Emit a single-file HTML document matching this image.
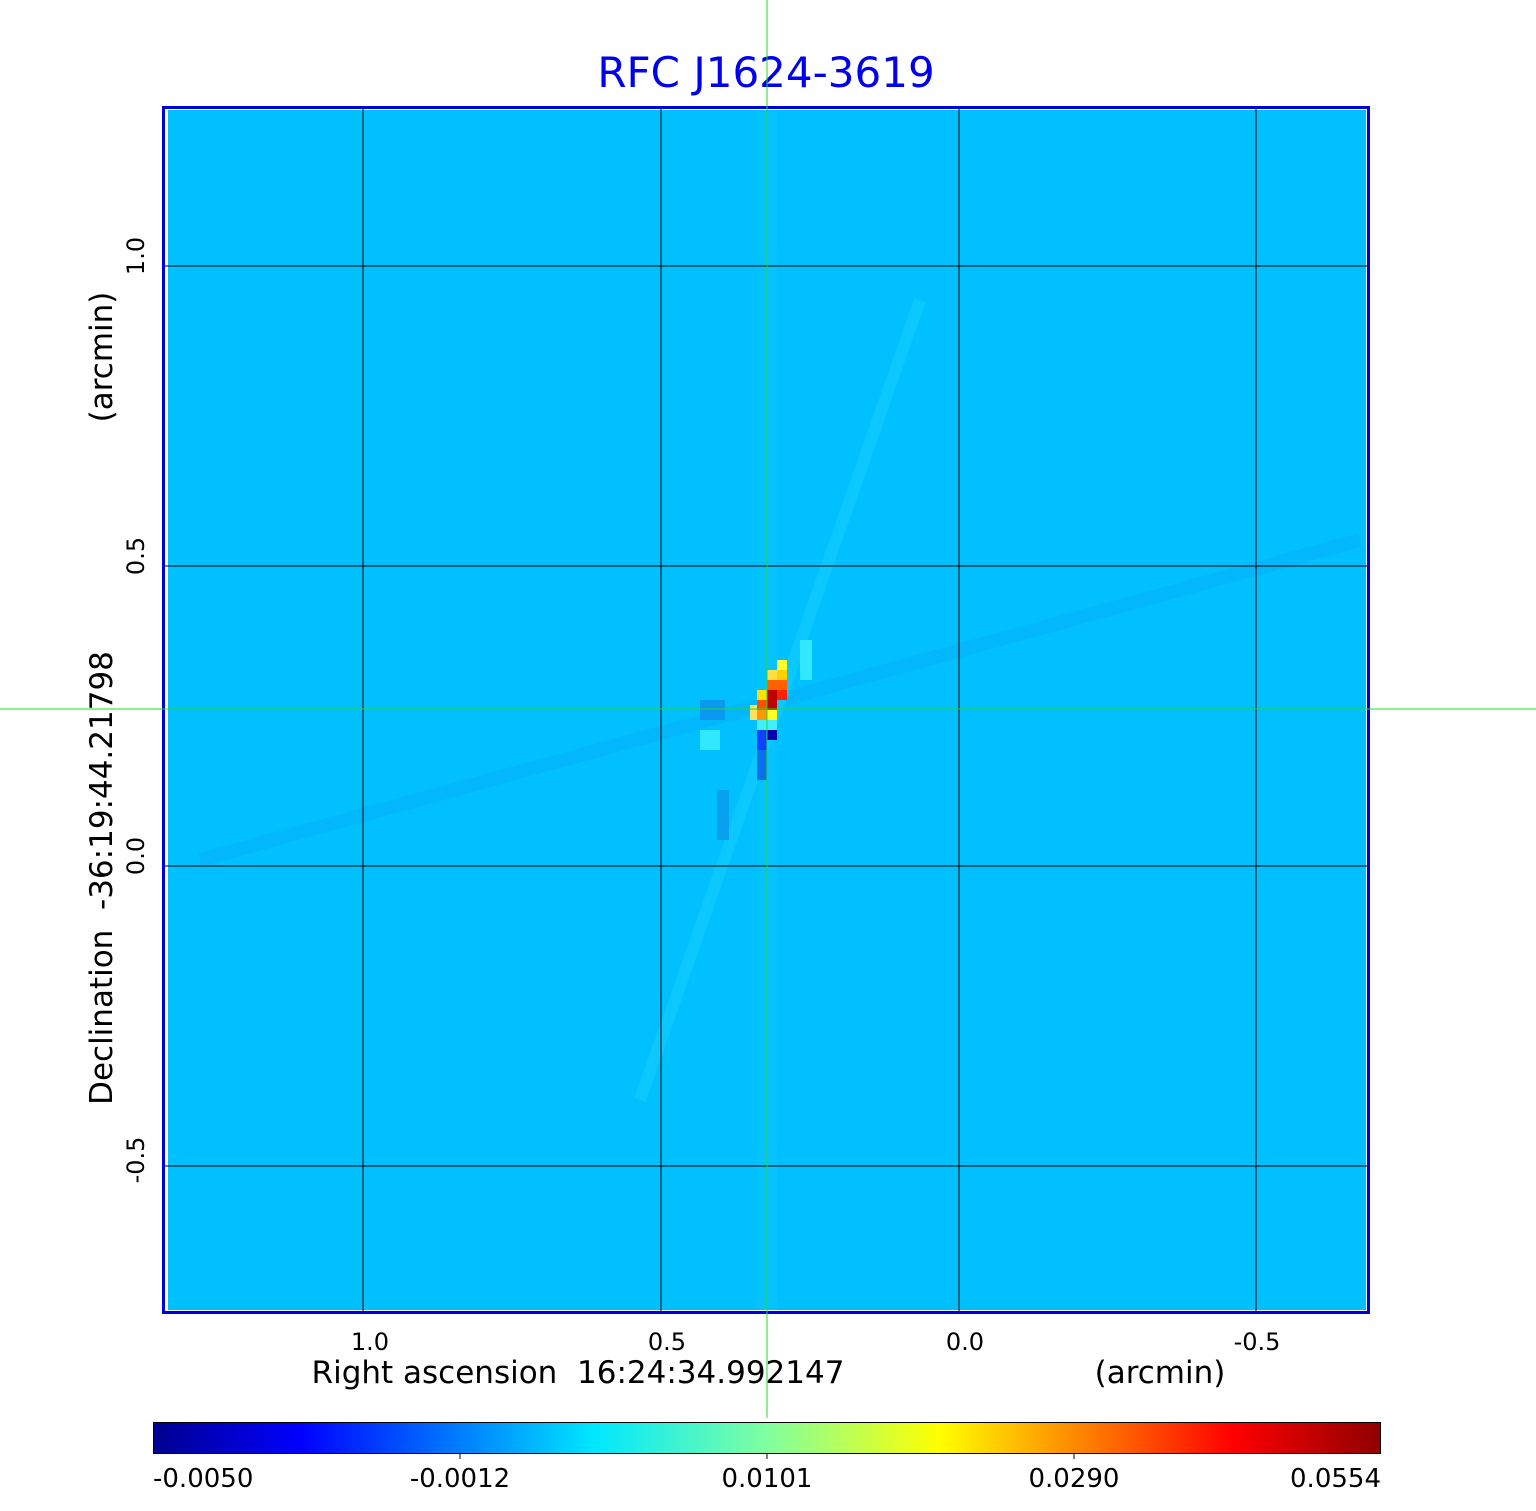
<!DOCTYPE html>
<html><head><meta charset="utf-8"><style>
body{margin:0;background:#fff;}
svg{display:block;font-family:"DejaVu Sans","Liberation Sans",sans-serif;}
</style></head><body>
<svg width="1536" height="1511" viewBox="0 0 1536 1511" xmlns="http://www.w3.org/2000/svg">
<defs>
<linearGradient id="jet" x1="0" x2="1" y1="0" y2="0">
<stop offset="0" stop-color="#000090"/>
<stop offset="0.12" stop-color="#0000ff"/>
<stop offset="0.36" stop-color="#00e8ff"/>
<stop offset="0.5" stop-color="#80ffa0"/>
<stop offset="0.64" stop-color="#ffff00"/>
<stop offset="0.88" stop-color="#ff0000"/>
<stop offset="1" stop-color="#900000"/>
</linearGradient>
</defs>
<text x="766" y="87" font-size="42" fill="#0000ee" text-anchor="middle">RFC J1624-3619</text>
<rect x="168" y="110" width="1198" height="1200" fill="#00c0ff"/>
<g opacity="0.35">
<rect x="757" y="110" width="20" height="1200" fill="#10c8ff"/>
<line x1="200" y1="860" x2="1360" y2="540" stroke="#0aa8f8" stroke-width="14"/>
<line x1="640" y1="1100" x2="920" y2="300" stroke="#20d8ff" stroke-width="12"/>
</g>
<rect x="700" y="700" width="25" height="20" fill="#0a98f0"/>
<rect x="700" y="730" width="20" height="20" fill="#30e8ff"/>
<rect x="717" y="790" width="12" height="50" fill="#0aa0f0"/>
<rect x="800" y="640" width="12" height="40" fill="#30e8ff"/>
<rect x="777" y="660" width="10" height="10" fill="#ffff30"/>
<rect x="777" y="670" width="10" height="10" fill="#ffd000"/>
<rect x="767" y="670" width="10" height="10" fill="#ffe040"/>
<rect x="767" y="680" width="20" height="10" fill="#ff6000"/>
<rect x="767" y="690" width="10" height="20" fill="#c00000"/>
<rect x="777" y="690" width="10" height="10" fill="#ff2000"/>
<rect x="757" y="690" width="10" height="10" fill="#ffe000"/>
<rect x="757" y="700" width="10" height="10" fill="#ff5000"/>
<rect x="767" y="710" width="10" height="10" fill="#ffff20"/>
<rect x="757" y="710" width="10" height="10" fill="#ff9800"/>
<rect x="750" y="705" width="7" height="15" fill="#ffe060"/>
<rect x="757" y="720" width="20" height="10" fill="#40f0ff"/>
<rect x="767" y="730" width="10" height="10" fill="#0000b0"/>
<rect x="757" y="730" width="10" height="20" fill="#1040ff"/>
<rect x="757" y="750" width="10" height="30" fill="#0870f0"/>
<g stroke="#000" stroke-width="1">
<line x1="363" y1="107" x2="363" y2="1313"/>
<line x1="661" y1="107" x2="661" y2="1313"/>
<line x1="959" y1="107" x2="959" y2="1313"/>
<line x1="1256" y1="107" x2="1256" y2="1313"/>
<line x1="163" y1="266" x2="1369" y2="266"/>
<line x1="163" y1="566" x2="1369" y2="566"/>
<line x1="163" y1="866" x2="1369" y2="866"/>
<line x1="163" y1="1166" x2="1369" y2="1166"/>
</g>
<rect x="163.5" y="107.5" width="1205" height="1205" fill="none" stroke="#0000dd" stroke-width="3"/>
<line x1="767" y1="0" x2="767" y2="1418" stroke="#22dd22" stroke-width="1"/>
<line x1="0" y1="709" x2="1536" y2="709" stroke="#22dd22" stroke-width="1"/>
<g font-size="24" fill="#000" text-anchor="middle">
<text x="370" y="1350">1.0</text>
<text x="667" y="1350">0.5</text>
<text x="965" y="1350">0.0</text>
<text x="1257" y="1350">-0.5</text>
<text x="578" y="1383" font-size="31">Right ascension&#160;&#160;16:24:34.992147</text>
<text x="1160" y="1383" font-size="31">(arcmin)</text>
<text transform="translate(144,256) rotate(-90)">1.0</text>
<text transform="translate(144,556) rotate(-90)">0.5</text>
<text transform="translate(144,856) rotate(-90)">0.0</text>
<text transform="translate(144,1160) rotate(-90)">-0.5</text>
<text transform="translate(112,357) rotate(-90)" font-size="31">(arcmin)</text>
<text transform="translate(112,878) rotate(-90)" font-size="31">Declination&#160;&#160;-36:19:44.21798</text>
</g>
<rect x="153.5" y="1422.5" width="1227" height="31" fill="url(#jet)" stroke="#000" stroke-width="1"/>
<g stroke="#000"><line x1="460" y1="1453" x2="460" y2="1459"/><line x1="767" y1="1453" x2="767" y2="1459"/><line x1="1074" y1="1453" x2="1074" y2="1459"/></g>
<g font-size="26" fill="#000">
<text x="153" y="1487">-0.0050</text>
<text x="460" y="1487" text-anchor="middle">-0.0012</text>
<text x="767" y="1487" text-anchor="middle">0.0101</text>
<text x="1074" y="1487" text-anchor="middle">0.0290</text>
<text x="1381" y="1487" text-anchor="end">0.0554</text>
</g>
</svg>
</body></html>
